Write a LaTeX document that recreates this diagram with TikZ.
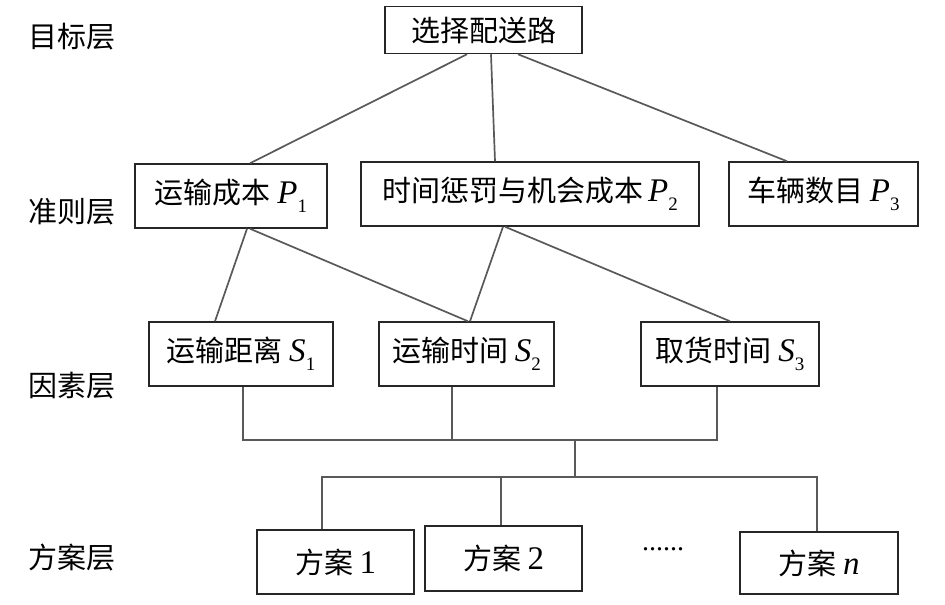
\documentclass[tikz,border=0pt]{standalone}
\usepackage{fontspec}
\setmainfont{Liberation Serif}
\newfontfamily\cjk{Noto Sans CJK SC}
\usetikzlibrary{calc}
\newcommand\symb[2]{{\rmfamily\itshape\fontsize{33}{33}\selectfont #1}\raisebox{-0.3em}{\rmfamily\upshape\fontsize{19}{19}\selectfont #2}}
\newcommand\lat[1]{{\rmfamily\fontsize{33}{33}\selectfont #1}}
\begin{document}
\begin{tikzpicture}[x=1pt,y=-1pt,
  every node/.style={font=\fontsize{29}{32}\selectfont\cjk},
  box/.style={draw=black!85,line width=1.5pt,inner sep=0pt,minimum height=64pt},
  conn/.style={draw=black!65,line width=1.7pt},
  layer/.style={inner sep=0pt}]
\useasboundingbox (0,0) rectangle (945,605);
% layer labels
\node[layer] (L1) at (72,37) {目标层};
\node[layer] (L2) at (72,212) {准则层};
\node[layer] (L3) at (72,386) {因素层};
\node[layer] (L4) at (72,558) {方案层};
% boxes
\node[box,minimum width=197pt,minimum height=47pt] (top) at (483.5,30) {选择配送路};
\node[box,minimum width=192pt] (P1) at (231,196) {运输成本 \symb{P}{1}};
\node[box,minimum width=338pt] (P2) at (530,194) {时间惩罚与机会成本\,\symb{P}{2}};
\node[box,minimum width=189pt] (P3) at (823.5,194) {车辆数目 \symb{P}{3}};
\node[box,minimum width=184pt] (S1) at (241,354) {运输距离 \symb{S}{1}};
\node[box,minimum width=175pt] (S2) at (466.5,354) {运输时间 \symb{S}{2}};
\node[box,minimum width=178pt] (S3) at (730,354) {取货时间 \symb{S}{3}};
\node[box,minimum width=157pt] (A1) at (335.5,562) {方案 \lat{1}};
\node[box,minimum width=157pt,minimum height=65pt] (A2) at (503.5,558.5) {方案 \lat{2}};
\node[box,minimum width=158pt,minimum height=62pt] (An) at (819,563) {方案 \lat{\itshape n}};
\node[inner sep=0pt,font=\fontsize{28}{32}\selectfont\rmfamily] (dots) at (663,549) {......};
% connectors top -> criteria
\draw[conn] ($(top.south)+(-16.5,0)$) -- ($(P1.north)+(19,0)$);
\draw[conn] ($(top.south)+(7.5,0)$) -- ($(P2.north)+(-35,0)$);
\draw[conn] ($(top.south)+(34.5,0)$) -- ($(P3.north)+(-36.5,0)$);
% criteria -> factors
\draw[conn] ($(P1.south)+(16,0)$) -- ($(S1.north)+(-26,0)$);
\draw[conn] ($(P1.south)+(19,0)$) -- ($(S2.north)+(1.5,0)$);
\draw[conn] ($(P2.south)+(-27,0)$) -- ($(S2.north)+(3.5,0)$);
\draw[conn] ($(P2.south)+(-25,0)$) -- ($(S3.north)+(0,0)$);
% factors -> alternatives
\coordinate (j1) at (575,440);
\coordinate (j2) at (575,477);
\coordinate (s1b) at ($(S1.south)+(2,0)$);
\coordinate (s2b) at ($(S2.south)+(-14.5,0)$);
\coordinate (s3b) at ($(S3.south)+(-13,0)$);
\coordinate (a1t) at ($(A1.north)+(-13.5,0)$);
\coordinate (a2t) at ($(A2.north)+(-2.5,0)$);
\coordinate (ant) at ($(An.north)+(-2,0)$);
\draw[conn] (s1b) |- (j1) -| (s3b);
\draw[conn] (s2b) -- (s2b |- j1);
\draw[conn] (j1) -- (j2);
\draw[conn] (a1t) |- (j2) -| (ant);
\draw[conn] (a2t |- j2) -- (a2t);
\end{tikzpicture}
\end{document}
